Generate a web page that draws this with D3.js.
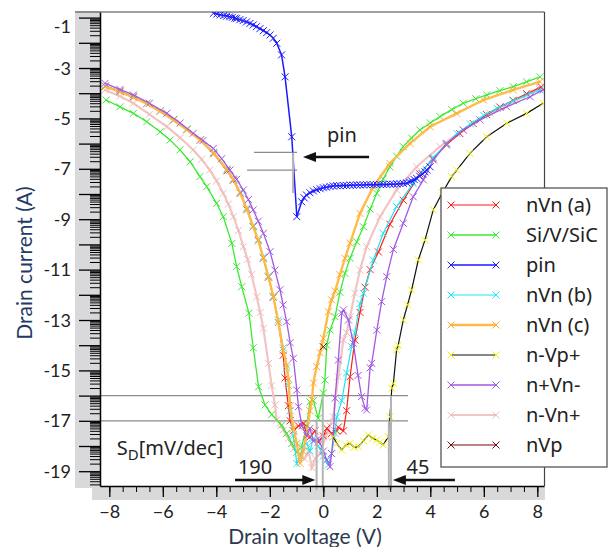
<!DOCTYPE html>
<html>
<head>
<meta charset="utf-8">
<script src="https://cdn.jsdelivr.net/npm/d3@7"></script>
<style>
  body { margin: 0; background: #fff; }
  svg { display: block; font-family: "Noto Sans", sans-serif; }
</style>
</head>
<body>
<svg id="chart" width="611" height="547"></svg>
<script>
// drain voltage (V) vs log10 drain current
const nVnA = [[-8.15,-3.72],[-7.6,-3.92],[-7.1,-4.14],[-6.6,-4.4],[-6.1,-4.7],[-5.6,-5.05],[-5.1,-5.43],[-4.6,-5.86],[-4.1,-6.4],[-3.6,-7.08],[-3.36,-7.45],[-3.1,-7.97],[-2.86,-8.62],[-2.62,-9.3],[-2.43,-9.85],[-2.24,-10.55],[-2.05,-11.3],[-1.87,-12.1],[-1.68,-13.1],[-1.5,-14.4],[-1.43,-15.3],[-1.31,-16.4],[-1.24,-17.0],[-1.12,-17.4],[-0.93,-17.2],[-0.75,-17.1],[-0.62,-17.5],[-0.5,-17.65],[-0.31,-17.4],[-0.19,-17.85],[0.0,-17.6],[0.13,-17.3],[0.31,-17.5],[0.5,-17.4],[0.56,-17.25],[0.75,-17.4],[0.87,-16.6],[1.0,-15.25],[1.18,-13.8],[1.37,-12.7],[1.56,-11.7],[1.75,-11.0],[2.06,-10.3],[2.49,-9.2],[2.99,-8.25],[3.61,-7.2],[4.1,-6.6],[4.6,-6.05],[5.1,-5.6],[5.6,-5.2],[6.1,-4.85],[6.6,-4.55],[7.1,-4.28],[7.6,-4.02],[8.15,-3.75]];
const siVSiC = [[-8.12,-4.27],[-7.6,-4.54],[-7.1,-4.8],[-6.6,-5.13],[-6.1,-5.53],[-5.73,-5.86],[-5.36,-6.25],[-4.98,-6.72],[-4.61,-7.31],[-4.36,-7.71],[-3.99,-8.37],[-3.74,-8.9],[-3.42,-9.96],[-3.24,-10.88],[-3.05,-11.68],[-2.78,-12.73],[-2.62,-14.1],[-2.42,-15.65],[-2.18,-16.37],[-1.93,-16.75],[-1.56,-17.17],[-1.37,-17.5],[-1.18,-17.9],[-1.0,-18.25],[-0.81,-18.05],[-0.62,-17.2],[-0.5,-16.25],[-0.37,-16.2],[-0.19,-16.9],[0.0,-15.9],[0.06,-15.38],[0.13,-14.0],[0.25,-13.4],[0.44,-12.87],[0.62,-11.9],[0.81,-11.15],[1.0,-10.55],[1.25,-9.9],[1.5,-9.3],[1.75,-8.6],[2.0,-7.97],[2.24,-7.4],[2.49,-6.92],[2.74,-6.5],[2.99,-6.12],[3.3,-5.78],[3.61,-5.46],[4.0,-5.18],[4.36,-4.93],[4.8,-4.65],[5.23,-4.4],[5.7,-4.22],[6.11,-4.07],[6.6,-3.9],[7.1,-3.74],[7.6,-3.55],[8.1,-3.35]];
const pinData = [[-4.11,-0.83],[-3.98,-0.86],[-3.85,-0.89],[-3.72,-0.92],[-3.61,-0.94],[-3.5,-0.97],[-3.4,-0.99],[-3.3,-1.02],[-3.24,-1.04],[-3.12,-1.08],[-3.0,-1.12],[-2.87,-1.17],[-2.74,-1.23],[-2.62,-1.29],[-2.5,-1.36],[-2.37,-1.44],[-2.24,-1.52],[-2.12,-1.6],[-1.99,-1.69],[-1.87,-1.82],[-1.74,-2.02],[-1.56,-2.48],[-1.43,-3.35],[-1.18,-5.73],[-0.99,-8.9],[-0.81,-8.31],[-0.72,-8.15],[-0.63,-8.04],[-0.5,-7.95],[-0.37,-7.88],[-0.25,-7.83],[-0.12,-7.79],[0.0,-7.75],[0.12,-7.73],[0.25,-7.7],[0.37,-7.68],[0.5,-7.67],[0.62,-7.67],[0.75,-7.66],[0.87,-7.66],[1.0,-7.65],[1.12,-7.65],[1.25,-7.64],[1.37,-7.64],[1.5,-7.64],[1.62,-7.63],[1.75,-7.63],[1.87,-7.63],[2.0,-7.63],[2.12,-7.62],[2.24,-7.62],[2.37,-7.62],[2.5,-7.61],[2.62,-7.61],[2.75,-7.6],[2.87,-7.59],[2.99,-7.58],[3.12,-7.56],[3.22,-7.52],[3.3,-7.48],[3.4,-7.43],[3.49,-7.38],[3.6,-7.29],[3.7,-7.2],[3.8,-7.12],[3.87,-7.05],[3.99,-6.92]];
const nVnB = [[-8.15,-3.72],[-7.6,-3.93],[-7.1,-4.15],[-6.6,-4.4],[-6.1,-4.7],[-5.6,-5.05],[-5.1,-5.42],[-4.6,-5.84],[-4.1,-6.35],[-3.6,-7.0],[-3.36,-7.4],[-3.1,-7.92],[-2.86,-8.55],[-2.62,-9.25],[-2.43,-9.8],[-2.24,-10.5],[-2.05,-11.25],[-1.87,-12.1],[-1.68,-13.0],[-1.5,-14.1],[-1.37,-14.9],[-1.3,-15.6],[-1.24,-16.6],[-1.12,-17.6],[-0.99,-18.7],[-0.87,-18.4],[-0.75,-18.0],[-0.62,-17.9],[-0.5,-18.2],[-0.37,-17.7],[-0.19,-18.0],[0.0,-18.4],[0.19,-18.75],[0.31,-18.3],[0.44,-17.5],[0.5,-16.85],[0.69,-16.2],[0.87,-15.1],[1.06,-14.06],[1.18,-13.5],[1.37,-12.35],[1.5,-11.94],[1.87,-10.62],[2.24,-9.56],[2.74,-8.5],[3.36,-7.58],[4.11,-6.55],[4.6,-6.02],[5.0,-5.6],[5.5,-5.22],[6.0,-4.88],[6.5,-4.6],[7.1,-4.3],[7.6,-4.08],[8.1,-3.87]];
const nVnC = [[-8.15,-3.74],[-7.6,-3.95],[-7.1,-4.17],[-6.6,-4.42],[-6.1,-4.72],[-5.6,-5.07],[-5.1,-5.45],[-4.6,-5.86],[-4.1,-6.38],[-3.6,-7.05],[-3.36,-7.44],[-3.1,-7.98],[-2.86,-8.6],[-2.62,-9.3],[-2.43,-9.85],[-2.24,-10.55],[-2.05,-11.3],[-1.87,-12.05],[-1.68,-13.1],[-1.5,-14.2],[-1.37,-14.8],[-1.3,-15.35],[-1.24,-16.4],[-1.12,-17.3],[-0.99,-17.9],[-0.87,-18.69],[-0.75,-18.2],[-0.62,-17.5],[-0.5,-16.6],[-0.43,-16.17],[-0.37,-15.5],[-0.25,-14.85],[-0.12,-14.3],[0.0,-13.73],[0.19,-12.67],[0.31,-12.2],[0.44,-11.85],[0.62,-11.2],[0.81,-10.55],[1.0,-9.95],[1.37,-8.77],[1.87,-7.71],[2.49,-6.78],[3.24,-5.99],[3.99,-5.33],[4.99,-4.8],[5.98,-4.27],[7.1,-3.87],[8.1,-3.54]];
const nVpPlus = [[0.37,-17.63],[0.5,-17.9],[0.69,-18.16],[0.85,-17.95],[1.0,-17.9],[1.15,-18.05],[1.31,-18.03],[1.5,-17.8],[1.68,-17.56],[1.85,-17.7],[2.0,-17.76],[2.12,-17.85],[2.24,-17.96],[2.43,-17.63],[2.49,-16.84],[2.56,-15.71],[2.62,-15.51],[2.74,-14.19],[2.8,-14.0],[2.99,-13.0],[3.15,-12.4],[3.3,-11.81],[3.55,-10.62],[3.8,-9.83],[4.11,-8.63],[4.45,-7.95],[4.8,-7.31],[4.99,-7.05],[5.48,-6.39],[6.11,-5.73],[6.86,-5.19],[7.6,-4.8],[8.22,-4.4]];
const npVnM = [[-8.16,-3.61],[-7.6,-3.85],[-7.1,-4.07],[-6.5,-4.4],[-5.85,-4.8],[-5.35,-5.18],[-4.86,-5.59],[-4.5,-5.88],[-4.11,-6.19],[-3.8,-6.6],[-3.49,-7.05],[-3.24,-7.42],[-2.99,-7.84],[-2.8,-8.22],[-2.62,-8.63],[-2.43,-9.08],[-2.24,-9.56],[-1.99,-10.29],[-1.81,-11.02],[-1.62,-11.8],[-1.5,-12.4],[-1.37,-13.07],[-1.24,-13.9],[-1.12,-14.52],[-0.99,-15.78],[-0.93,-16.44],[-0.8,-17.2],[-0.62,-17.6],[-0.5,-17.3],[-0.37,-17.8],[-0.19,-17.7],[0.0,-18.2],[0.13,-18.55],[0.25,-18.82],[0.31,-18.3],[0.37,-17.63],[0.44,-16.1],[0.56,-14.59],[0.69,-12.73],[0.75,-12.6],[0.94,-13.0],[1.12,-13.92],[1.3,-15.2],[1.43,-16.04],[1.56,-16.5],[1.62,-16.57],[1.75,-14.9],[1.81,-14.72],[2.0,-13.4],[2.18,-12.27],[2.37,-11.28],[2.62,-10.2],[2.99,-9.16],[3.36,-8.11],[3.74,-7.44],[4.11,-6.65],[4.61,-5.99],[5.23,-5.46],[5.86,-5.06],[6.85,-4.54],[7.73,-4.14],[8.22,-3.87]];
const nmVnP = [[-8.16,-3.87],[-7.6,-4.12],[-7.1,-4.4],[-6.5,-4.84],[-5.85,-5.33],[-5.35,-5.77],[-4.86,-6.25],[-4.55,-6.62],[-4.24,-7.05],[-3.99,-7.48],[-3.74,-7.97],[-3.55,-8.4],[-3.36,-8.9],[-3.17,-9.45],[-2.99,-10.09],[-2.83,-10.6],[-2.68,-11.2],[-2.49,-12.08],[-2.36,-12.7],[-2.24,-13.33],[-2.05,-14.72],[-1.93,-15.6],[-1.81,-16.37],[-1.74,-16.97],[-1.62,-17.1],[-1.5,-17.37],[-1.3,-17.7],[-1.1,-18.1],[-0.9,-18.3],[-0.7,-18.5],[-0.55,-18.2],[-0.43,-18.86],[-0.3,-18.5],[-0.12,-18.3],[0.1,-17.6],[0.25,-17.2],[0.37,-16.84],[0.56,-15.25],[0.75,-13.79],[0.87,-13.5],[1.0,-12.87],[1.18,-11.94],[1.37,-11.02],[1.62,-10.09],[2.12,-8.9],[2.74,-7.84],[3.49,-6.92],[4.36,-6.12],[5.23,-5.46],[6.23,-4.8],[7.23,-4.27],[8.1,-3.8]];
const nVp = [[0.0,-14.06]];

const seriesNames = ["nVn (a)", "Si/V/SiC", "pin", "nVn (b)", "nVn (c)", "n-Vp+", "n+Vn-", "n-Vn+", "nVp"];
const seriesData = [nVnA, siVSiC, pinData, nVnB, nVnC, nVpPlus, npVnM, nmVnP, nVp];

const yMajorTicks = d3.range(-1, -20, -1);
const xMajorTicks = [-8, -6, -4, -2, 0, 2, 4, 6, 8];
const xMinorTicks = d3.range(-8, 8.01, 0.5);

// guide lines and labels for the swing annotation
const hGuides = [[-16, -8.4, 3.17], [-17, -8.4, 3.17], [-6.35, -2.59, -0.98], [-7.05, -2.85, -0.98]];
const vGuides = [[-1.13, -6.35, -7.96], [-0.02, -16, -19.75], [-0.25, -17, -19.75], [2.53, -16, -19.75], [2.45, -17, -19.75]];
const arrows = [[1.71, -6.53, -0.76], [-3.3, -19.35, -0.3], [4.92, -19.35, 2.6]];
const notes = [["pin", 0.14, -5.95, "start"], ["190", -2.55, -19.12, "middle"], ["45", 3.54, -19.12, "middle"]];

const lineColors = ["#ff1a1a", "#3de833", "#1a1aff", "#1ee6f0", "#ffbb4a", "#111111", "#a259e0", "#f2c4c4", "#7a0a0a"];
const markColors = ["#ff1a1a", "#3de833", "#1a1aff", "#1ee6f0", "#ffa82e", "#f2f200", "#a259e0", "#f0baba", "#7a0a0a"];
const lineWidths = [1.2, 1.3, 1.5, 1.2, 2.4, 1.2, 1.3, 2.2, 1.2];
const drawOrder = [7, 1, 0, 3, 4, 6, 2, 5, 8];

const axisFont = 'Lato, "Noto Sans", sans-serif';

const svg = d3.select('#chart');
const L = 100, T = 12, R = 544, B = 486;
const x = d3.scaleLinear().domain([-8.348, 8.25]).range([L, R]);
const y = d3.scaleLinear().domain([-0.778, -19.587]).range([T, B]);

// grey axis bands
svg.append('rect').attr('x', 75).attr('y', 11).attr('width', L - 75).attr('height', 477).attr('fill', '#d9d9dc');
svg.append('rect').attr('x', 92).attr('y', B).attr('width', 545 - 92).attr('height', 14).attr('fill', '#d9d9dc');

// frame (top and right)
svg.append('line').attr('x1', 75).attr('x2', R + 0.5).attr('y1', T).attr('y2', T).attr('stroke', '#444').attr('stroke-width', 1.2);
svg.append('line').attr('x1', R + 0.5).attr('x2', R + 0.5).attr('y1', T).attr('y2', B).attr('stroke', '#444').attr('stroke-width', 1.2);

svg.append('clipPath').attr('id', 'plotClip')
    .append('rect').attr('x', L).attr('y', T).attr('width', R - L).attr('height', B - T);

const plot = svg.append('g').attr('clip-path', 'url(#plotClip)');

hGuides.forEach(g => {
    plot.append('line')
        .attr('x1', x(g[1])).attr('x2', x(g[2])).attr('y1', y(g[0])).attr('y2', y(g[0]))
        .attr('stroke', '#8c8c8c').attr('stroke-width', 1.2);
});

const line = d3.line().x(d => x(d[0])).y(d => y(d[1]));
const mark = 'M-3.5,-3.5L3.5,3.5M-3.5,3.5L3.5,-3.5';

drawOrder.forEach(i => {
    const g = plot.append('g');
    g.append('path').datum(seriesData[i])
        .attr('d', line).attr('fill', 'none')
        .attr('stroke', lineColors[i]).attr('stroke-width', lineWidths[i]);
    g.selectAll('path.m').data(seriesData[i]).enter().append('path')
        .attr('class', 'm')
        .attr('d', mark)
        .attr('transform', d => `translate(${x(d[0])},${y(d[1])})`)
        .attr('stroke', markColors[i]).attr('stroke-width', 1).attr('fill', 'none');
});

// vertical guides reach slightly into the axis band
vGuides.forEach(g => {
    svg.append('line')
        .attr('x1', x(g[0])).attr('x2', x(g[0])).attr('y1', y(g[1])).attr('y2', y(g[2]))
        .attr('stroke', '#b4b4b4').attr('stroke-width', 2);
});

// axes
const yMinorTicks = [];
d3.range(-20, -1).forEach(n => {
    d3.range(2, 10).forEach(k => {
        const v = n + Math.log10(k);
        if (v < -0.78 && v > -19.58) yMinorTicks.push(v);
    });
});

const yAxisMinor = svg.append('g').attr('transform', `translate(${L},0)`)
    .call(d3.axisLeft(y).tickValues(yMinorTicks).tickSize(10).tickFormat(''));
yAxisMinor.select('.domain').remove();

const yAxis = svg.append('g').attr('transform', `translate(${L},0)`)
    .call(d3.axisLeft(y).tickValues(yMajorTicks).tickSize(21).tickSizeOuter(0).tickPadding(8)
        .tickFormat(d => (Math.abs(d) % 2 === 1 ? d : '')));
yAxis.selectAll('line').attr('stroke-width', 1.3);
yAxis.select('.domain').attr('stroke-width', 1.5);
yAxis.selectAll('text').attr('font-size', 18).attr('fill', '#222').attr('font-family', axisFont)
    .attr('dy', d => (d === -1 ? '0.8em' : '0.34em'));

const xAxisMinor = svg.append('g').attr('transform', `translate(0,${B})`)
    .call(d3.axisBottom(x).tickValues(xMinorTicks).tickSize(6).tickFormat(''));
xAxisMinor.select('.domain').remove();

const xAxis = svg.append('g').attr('transform', `translate(0,${B})`)
    .call(d3.axisBottom(x).tickValues(xMajorTicks).tickSize(11).tickSizeOuter(0).tickPadding(8));
xAxis.selectAll('line').attr('stroke-width', 1.3);
xAxis.select('.domain').attr('stroke-width', 1.5);
xAxis.selectAll('text').attr('font-size', 18).attr('fill', '#222').attr('font-family', axisFont);

svg.append('text').attr('x', 305).attr('y', 543.5).attr('text-anchor', 'middle')
    .attr('font-family', axisFont).attr('font-size', 21).attr('fill', '#2b3a4e').text('Drain voltage (V)');
svg.append('text').attr('transform', 'translate(32,263) rotate(-90)').attr('text-anchor', 'middle')
    .attr('font-family', axisFont).attr('font-size', 21).attr('fill', '#1f3b66').text('Drain current (A)');

// annotations
arrows.forEach(a => {
    const x0 = x(a[0]), x1 = x(a[2]), yy = y(a[1]);
    const dir = x1 > x0 ? 1 : -1;
    svg.append('line').attr('x1', x0).attr('x2', x1 - dir * 8).attr('y1', yy).attr('y2', yy)
        .attr('stroke', '#111').attr('stroke-width', 2.4);
    svg.append('path')
        .attr('d', `M${x1},${yy}L${x1 - dir * 13},${yy - 5}L${x1 - dir * 13},${yy + 5}Z`)
        .attr('fill', '#111');
});

notes.forEach(n => {
    svg.append('text').attr('x', x(n[1])).attr('y', y(n[2])).attr('text-anchor', n[3])
        .attr('font-size', 20).attr('fill', '#222').text(n[0]);
});

const sd = svg.append('text').attr('x', x(-7.72)).attr('y', y(-18.36)).attr('font-size', 20).attr('fill', '#222');
sd.append('tspan').text('S');
sd.append('tspan').attr('font-size', 15).attr('dy', 5).text('D');
sd.append('tspan').attr('dy', -5).text('[mV/dec]');

// legend
const lg = svg.append('g');
lg.append('rect').attr('x', 441).attr('y', 188).attr('width', 166).attr('height', 279)
    .attr('fill', '#fff').attr('stroke', '#555').attr('stroke-width', 1.3);
seriesNames.forEach((name, i) => {
    const cy = 205 + i * 30;
    lg.append('line').attr('x1', 451).attr('x2', 496).attr('y1', cy).attr('y2', cy)
        .attr('stroke', lineColors[i]).attr('stroke-width', Math.min(lineWidths[i], 2.6));
    [451, 496].forEach(mx => {
        lg.append('path').attr('d', mark).attr('transform', `translate(${mx},${cy})`)
            .attr('stroke', markColors[i]).attr('stroke-width', 1).attr('fill', 'none');
    });
    lg.append('text').attr('x', 526).attr('y', cy).attr('dy', '0.35em')
        .attr('font-size', 20).attr('fill', '#222').text(name);
});
</script>
</body>
</html>
